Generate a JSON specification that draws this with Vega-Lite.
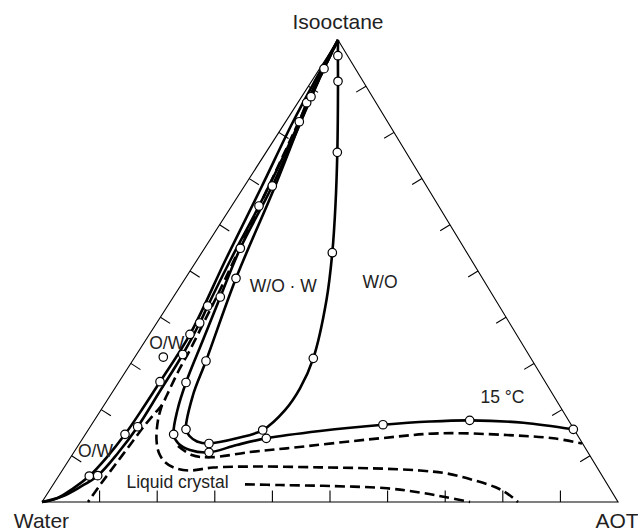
{
  "$schema": "https://vega.github.io/schema/vega-lite/v6.json",
  "width": 638,
  "height": 531,
  "padding": 0,
  "autosize": {"type": "none"},
  "background": "white",
  "config": {"view": {"stroke": null}},
  "datasets": {
    "frame": [
      {"o": 1, "x": 0, "y": 0},
      {"o": 2, "x": 100, "y": 0},
      {"o": 3, "x": 51.39, "y": 80.21},
      {"o": 4, "x": 0, "y": 0}
    ],
    "ticks": [
      {"x": 10, "y": 0, "x2": 10, "y2": 2.0},
      {"x": 20, "y": 0, "x2": 20, "y2": 2.0},
      {"x": 30, "y": 0, "x2": 30, "y2": 2.0},
      {"x": 40, "y": 0, "x2": 40, "y2": 2.0},
      {"x": 50, "y": 0, "x2": 50, "y2": 2.0},
      {"x": 60, "y": 0, "x2": 60, "y2": 2.0},
      {"x": 70, "y": 0, "x2": 70, "y2": 2.0},
      {"x": 80, "y": 0, "x2": 80, "y2": 2.0},
      {"x": 90, "y": 0, "x2": 90, "y2": 2.0},
      {"x": 5.139, "y": 8.021, "x2": 6.82, "y2": 6.945},
      {"x": 10.278, "y": 16.042, "x2": 11.959, "y2": 14.966},
      {"x": 15.417, "y": 24.063, "x2": 17.098, "y2": 22.987},
      {"x": 20.556, "y": 32.084, "x2": 22.237, "y2": 31.008},
      {"x": 25.695, "y": 40.105, "x2": 27.376, "y2": 39.029},
      {"x": 30.834, "y": 48.126, "x2": 32.515, "y2": 47.05},
      {"x": 35.973, "y": 56.147, "x2": 37.654, "y2": 55.071},
      {"x": 41.112, "y": 64.168, "x2": 42.793, "y2": 63.092},
      {"x": 46.251, "y": 72.189, "x2": 47.932, "y2": 71.113},
      {"x": 95.139, "y": 8.021, "x2": 93.432, "y2": 6.987},
      {"x": 90.278, "y": 16.042, "x2": 88.571, "y2": 15.008},
      {"x": 85.417, "y": 24.063, "x2": 83.71, "y2": 23.029},
      {"x": 80.556, "y": 32.084, "x2": 78.849, "y2": 31.05},
      {"x": 75.695, "y": 40.105, "x2": 73.988, "y2": 39.071},
      {"x": 70.834, "y": 48.126, "x2": 69.127, "y2": 47.092},
      {"x": 65.973, "y": 56.147, "x2": 64.266, "y2": 55.113},
      {"x": 61.112, "y": 64.168, "x2": 59.405, "y2": 63.134},
      {"x": 56.251, "y": 72.189, "x2": 54.544, "y2": 71.155}
    ],
    "solid": [
      {"curve": "L1", "o": 1, "x": 0, "y": 0},
      {"curve": "L1", "o": 2, "x": 2.6, "y": 0.64},
      {"curve": "L1", "o": 3, "x": 5.43, "y": 2.38},
      {"curve": "L1", "o": 4, "x": 8.21, "y": 4.51},
      {"curve": "L1", "o": 5, "x": 11.28, "y": 7.81},
      {"curve": "L1", "o": 6, "x": 14.41, "y": 11.75},
      {"curve": "L1", "o": 7, "x": 17.53, "y": 16.32},
      {"curve": "L1", "o": 8, "x": 20.49, "y": 20.89},
      {"curve": "L1", "o": 9, "x": 25.69, "y": 29.11},
      {"curve": "L1", "o": 10, "x": 31.94, "y": 42.19},
      {"curve": "L1", "o": 11, "x": 38.02, "y": 54.51},
      {"curve": "L1", "o": 12, "x": 43.58, "y": 66.02},
      {"curve": "L1", "o": 13, "x": 47.57, "y": 73.44},
      {"curve": "L1", "o": 14, "x": 51.39, "y": 80.21},
      {"curve": "L2", "o": 1, "x": 0, "y": 0},
      {"curve": "L2", "o": 2, "x": 3.47, "y": 0.95},
      {"curve": "L2", "o": 3, "x": 6.6, "y": 2.6},
      {"curve": "L2", "o": 4, "x": 9.67, "y": 4.57},
      {"curve": "L2", "o": 5, "x": 13.19, "y": 8.51},
      {"curve": "L2", "o": 6, "x": 16.61, "y": 13.07},
      {"curve": "L2", "o": 7, "x": 20.49, "y": 19.27},
      {"curve": "L2", "o": 8, "x": 24.43, "y": 25.61},
      {"curve": "L2", "o": 9, "x": 27.38, "y": 31.08},
      {"curve": "L2", "o": 10, "x": 28.77, "y": 34.03},
      {"curve": "L2", "o": 11, "x": 32.99, "y": 42.53},
      {"curve": "L2", "o": 12, "x": 37.67, "y": 51.39},
      {"curve": "L2", "o": 13, "x": 44.67, "y": 66.02},
      {"curve": "L2", "o": 14, "x": 45.95, "y": 69.32},
      {"curve": "L2", "o": 15, "x": 51.39, "y": 80.21},
      {"curve": "A", "o": 1, "x": 51.39, "y": 80.21},
      {"curve": "A", "o": 2, "x": 51.37, "y": 77.48},
      {"curve": "A", "o": 3, "x": 51.39, "y": 73.04},
      {"curve": "A", "o": 4, "x": 51.27, "y": 60.71},
      {"curve": "A", "o": 5, "x": 50.95, "y": 51.56},
      {"curve": "A", "o": 6, "x": 50.4, "y": 43.28},
      {"curve": "A", "o": 7, "x": 49.39, "y": 35.07},
      {"curve": "A", "o": 8, "x": 47.1, "y": 24.95},
      {"curve": "A", "o": 9, "x": 44.79, "y": 19.74},
      {"curve": "A", "o": 10, "x": 42.19, "y": 15.97},
      {"curve": "A", "o": 11, "x": 38.32, "y": 12.5},
      {"curve": "A", "o": 12, "x": 33.8, "y": 11.06},
      {"curve": "A", "o": 13, "x": 28.99, "y": 10.16},
      {"curve": "A", "o": 14, "x": 26.91, "y": 10.5},
      {"curve": "A", "o": 15, "x": 25.61, "y": 11.46},
      {"curve": "A", "o": 16, "x": 25.0, "y": 12.62},
      {"curve": "A", "o": 17, "x": 26.22, "y": 18.58},
      {"curve": "A", "o": 18, "x": 28.47, "y": 24.48},
      {"curve": "A", "o": 19, "x": 33.68, "y": 38.84},
      {"curve": "A", "o": 20, "x": 40.19, "y": 54.17},
      {"curve": "A", "o": 21, "x": 46.7, "y": 70.36},
      {"curve": "A", "o": 22, "x": 51.39, "y": 80.21},
      {"curve": "B", "o": 1, "x": 51.39, "y": 80.21},
      {"curve": "B", "o": 2, "x": 48.96, "y": 75.23},
      {"curve": "B", "o": 3, "x": 39.98, "y": 54.86},
      {"curve": "B", "o": 4, "x": 34.43, "y": 44.05},
      {"curve": "B", "o": 5, "x": 30.95, "y": 35.59},
      {"curve": "B", "o": 6, "x": 27.95, "y": 28.13},
      {"curve": "B", "o": 7, "x": 25.0, "y": 20.75},
      {"curve": "B", "o": 8, "x": 23.52, "y": 15.97},
      {"curve": "B", "o": 9, "x": 22.86, "y": 11.75},
      {"curve": "B", "o": 10, "x": 23.66, "y": 10.19},
      {"curve": "B", "o": 11, "x": 25.69, "y": 9.03},
      {"curve": "B", "o": 12, "x": 28.99, "y": 8.63},
      {"curve": "B", "o": 13, "x": 33.8, "y": 9.9},
      {"curve": "B", "o": 14, "x": 38.94, "y": 11.06},
      {"curve": "B", "o": 15, "x": 48.26, "y": 12.33},
      {"curve": "B", "o": 16, "x": 59.2, "y": 13.42},
      {"curve": "B", "o": 17, "x": 67.36, "y": 13.98},
      {"curve": "B", "o": 18, "x": 74.25, "y": 14.18},
      {"curve": "B", "o": 19, "x": 83.56, "y": 13.77},
      {"curve": "B", "o": 20, "x": 92.24, "y": 12.62}
    ],
    "dashed": [
      {"curve": "D1", "o": 1, "x": 51.39, "y": 80.21},
      {"curve": "D1", "o": 2, "x": 46.35, "y": 69.79},
      {"curve": "D1", "o": 3, "x": 41.67, "y": 59.72},
      {"curve": "D1", "o": 4, "x": 36.11, "y": 47.92},
      {"curve": "D1", "o": 5, "x": 30.73, "y": 36.46},
      {"curve": "D1", "o": 6, "x": 28.13, "y": 31.25},
      {"curve": "D1", "o": 7, "x": 25.69, "y": 26.39},
      {"curve": "D1", "o": 8, "x": 23.61, "y": 22.57},
      {"curve": "D1", "o": 9, "x": 21.7, "y": 18.58},
      {"curve": "D1", "o": 10, "x": 20.83, "y": 16.84},
      {"curve": "D1", "o": 11, "x": 19.62, "y": 15.45},
      {"curve": "D1", "o": 12, "x": 17.88, "y": 13.37},
      {"curve": "D1", "o": 13, "x": 15.28, "y": 9.9},
      {"curve": "D1", "o": 14, "x": 12.67, "y": 6.42},
      {"curve": "D1", "o": 15, "x": 10.07, "y": 2.95},
      {"curve": "D1", "o": 16, "x": 7.99, "y": 0},
      {"curve": "D2", "o": 1, "x": 20.83, "y": 16.84},
      {"curve": "D2", "o": 2, "x": 20.14, "y": 14.24},
      {"curve": "D2", "o": 3, "x": 19.88, "y": 10.76},
      {"curve": "D2", "o": 4, "x": 20.31, "y": 8.51},
      {"curve": "D2", "o": 5, "x": 21.35, "y": 6.94},
      {"curve": "D2", "o": 6, "x": 23.09, "y": 5.9},
      {"curve": "D2", "o": 7, "x": 25.69, "y": 5.47},
      {"curve": "D2", "o": 8, "x": 29.69, "y": 5.99},
      {"curve": "D2", "o": 9, "x": 37.85, "y": 6.16},
      {"curve": "D2", "o": 10, "x": 48.26, "y": 6.02},
      {"curve": "D2", "o": 11, "x": 57.47, "y": 5.85},
      {"curve": "D2", "o": 12, "x": 65.63, "y": 5.47},
      {"curve": "D2", "o": 13, "x": 70.31, "y": 4.95},
      {"curve": "D2", "o": 14, "x": 74.83, "y": 3.82},
      {"curve": "D2", "o": 15, "x": 78.65, "y": 2.6},
      {"curve": "D2", "o": 16, "x": 80.73, "y": 1.51},
      {"curve": "D2", "o": 17, "x": 82.64, "y": 0},
      {"curve": "D3", "o": 1, "x": 23.61, "y": 9.72},
      {"curve": "D3", "o": 2, "x": 25.99, "y": 8.16},
      {"curve": "D3", "o": 3, "x": 29.17, "y": 7.76},
      {"curve": "D3", "o": 4, "x": 36.11, "y": 8.68},
      {"curve": "D3", "o": 5, "x": 42.48, "y": 9.32},
      {"curve": "D3", "o": 6, "x": 58.68, "y": 11.06},
      {"curve": "D3", "o": 7, "x": 69.1, "y": 11.93},
      {"curve": "D3", "o": 8, "x": 80.68, "y": 11.63},
      {"curve": "D3", "o": 9, "x": 88.77, "y": 11.06},
      {"curve": "D3", "o": 10, "x": 93.75, "y": 10.16},
      {"curve": "D4", "o": 1, "x": 35.24, "y": 3.07},
      {"curve": "D4", "o": 2, "x": 41.32, "y": 2.95},
      {"curve": "D4", "o": 3, "x": 50.0, "y": 2.78},
      {"curve": "D4", "o": 4, "x": 59.9, "y": 2.38},
      {"curve": "D4", "o": 5, "x": 65.63, "y": 1.65},
      {"curve": "D4", "o": 6, "x": 69.97, "y": 0.87},
      {"curve": "D4", "o": 7, "x": 74.31, "y": 0}
    ],
    "points": [
      {"x": 8.21, "y": 4.51}, {"x": 9.67, "y": 4.57},
      {"x": 14.41, "y": 11.75}, {"x": 16.61, "y": 13.07},
      {"x": 20.49, "y": 20.89}, {"x": 21.06, "y": 25.17},
      {"x": 24.43, "y": 25.61}, {"x": 25.69, "y": 29.11},
      {"x": 27.38, "y": 31.08}, {"x": 28.77, "y": 34.03},
      {"x": 28.47, "y": 24.48}, {"x": 25.0, "y": 20.75},
      {"x": 30.95, "y": 35.59}, {"x": 33.68, "y": 38.84},
      {"x": 34.43, "y": 44.05}, {"x": 37.67, "y": 51.39},
      {"x": 39.98, "y": 54.86}, {"x": 44.67, "y": 66.02},
      {"x": 45.95, "y": 69.32}, {"x": 46.7, "y": 70.36},
      {"x": 48.96, "y": 75.23}, {"x": 51.37, "y": 77.48},
      {"x": 51.39, "y": 73.04}, {"x": 51.27, "y": 60.71},
      {"x": 50.4, "y": 43.28}, {"x": 47.1, "y": 24.95},
      {"x": 38.32, "y": 12.5}, {"x": 38.94, "y": 11.06},
      {"x": 28.99, "y": 10.16}, {"x": 28.99, "y": 8.63},
      {"x": 25.0, "y": 12.62}, {"x": 22.86, "y": 11.75},
      {"x": 59.2, "y": 13.42}, {"x": 74.25, "y": 14.18},
      {"x": 92.24, "y": 12.62}
    ],
    "vertices": [
      {"label": "Isooctane", "x": 51.39, "y": 82.07},
      {"label": "Water", "x": -0.09, "y": -4.51},
      {"label": "AOT", "x": 99.83, "y": -4.51}
    ],
    "regions": [
      {"label": "W/O · W", "x": 41.89, "y": 36.51},
      {"label": "W/O", "x": 58.68, "y": 37.1},
      {"label": "15 °C", "x": 79.95, "y": 17.14},
      {"label": "Liquid crystal", "x": 23.52, "y": 2.48},
      {"label": "O/W", "x": 21.65, "y": 26.65},
      {"label": "O/W", "x": 9.29, "y": 7.86}
    ]
  },
  "encoding": {
    "x": {"field": "x", "type": "quantitative", "axis": null, "scale": {"domain": [-7.29, 103.47], "nice": false, "zero": false}},
    "y": {"field": "y", "type": "quantitative", "axis": null, "scale": {"domain": [-5.03, 87.15], "nice": false, "zero": false}}
  },
  "layer": [
    {
      "data": {"name": "frame"},
      "mark": {"type": "line", "color": "black", "strokeWidth": 1.1},
      "encoding": {"order": {"field": "o", "type": "quantitative"}}
    },
    {
      "data": {"name": "ticks"},
      "mark": {"type": "rule", "color": "black", "strokeWidth": 1.1},
      "encoding": {"x2": {"field": "x2"}, "y2": {"field": "y2"}}
    },
    {
      "data": {"name": "solid"},
      "mark": {"type": "line", "color": "black", "strokeWidth": 2.6, "interpolate": "catmull-rom"},
      "encoding": {"detail": {"field": "curve"}, "order": {"field": "o", "type": "quantitative"}}
    },
    {
      "data": {"name": "dashed"},
      "mark": {"type": "line", "color": "black", "strokeWidth": 2.6, "strokeDash": [10, 5], "interpolate": "catmull-rom"},
      "encoding": {"detail": {"field": "curve"}, "order": {"field": "o", "type": "quantitative"}}
    },
    {
      "data": {"name": "points"},
      "mark": {"type": "point", "shape": "circle", "filled": true, "fill": "white", "stroke": "black", "strokeWidth": 1.2, "size": 72, "opacity": 1}
    },
    {
      "data": {"name": "vertices"},
      "mark": {"type": "text", "font": "Liberation Sans", "fontSize": 21, "color": "#222", "align": "center", "baseline": "alphabetic"},
      "encoding": {"text": {"field": "label"}}
    },
    {
      "data": {"name": "regions"},
      "mark": {"type": "text", "font": "Liberation Sans", "fontSize": 17.5, "color": "#222", "align": "center", "baseline": "alphabetic"},
      "encoding": {"text": {"field": "label"}}
    }
  ]
}
